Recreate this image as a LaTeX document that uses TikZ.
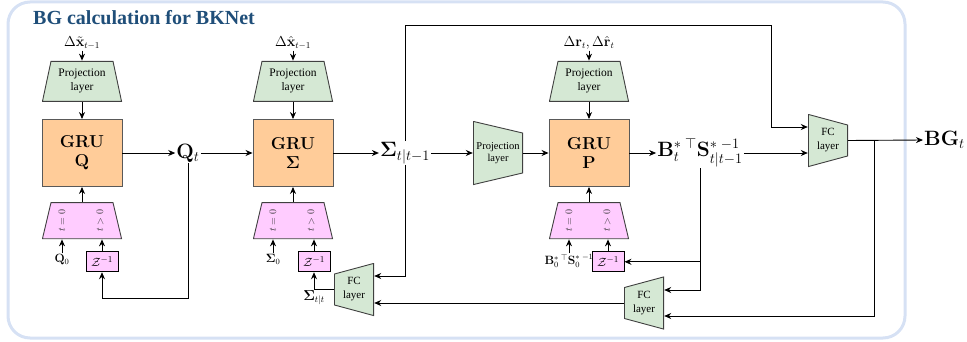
\documentclass[tikz,border=0pt]{standalone}
\usepackage{amsmath,amssymb}
\usepackage[no-math]{fontspec}
\setmainfont{Liberation Serif}
\usetikzlibrary{arrows.meta,positioning,calc}

\definecolor{gruorange}{HTML}{FFCC99}
\definecolor{projgreen}{HTML}{D5E8D4}
\definecolor{initpink}{HTML}{FFCCFF}
\definecolor{frameblue}{HTML}{D6E1F4}
\definecolor{titleblue}{HTML}{1F4E79}

\tikzset{
  trapS/.style 2 args={path picture={\filldraw[draw=black!75, line width=0.9pt, fill=#1]
    ($(path picture bounding box.north west)+(#2,-0.45pt)$) -- ($(path picture bounding box.north east)+(-#2,-0.45pt)$) --
    ($(path picture bounding box.south east)+(-0.45pt,0.45pt)$) -- ($(path picture bounding box.south west)+(0.45pt,0.45pt)$) -- cycle;}},
  trapW/.style 2 args={path picture={\filldraw[draw=black!75, line width=0.9pt, fill=#1]
    ($(path picture bounding box.north west)+(0.45pt,-0.45pt)$) -- ($(path picture bounding box.north east)+(-0.45pt,-#2)$) --
    ($(path picture bounding box.south east)+(-0.45pt,#2)$) -- ($(path picture bounding box.south west)+(0.45pt,0.45pt)$) -- cycle;}},
  trapE/.style 2 args={path picture={\filldraw[draw=black!75, line width=0.9pt, fill=#1]
    ($(path picture bounding box.north west)+(0.45pt,-#2)$) -- ($(path picture bounding box.north east)+(-0.45pt,-0.45pt)$) --
    ($(path picture bounding box.south east)+(-0.45pt,0.45pt)$) -- ($(path picture bounding box.south west)+(0.45pt,#2)$) -- cycle;}},
  grubox/.style={draw=black!65, fill=gruorange, line width=0.9pt, minimum width=80pt, minimum height=67pt, inner sep=0pt, align=center, font=\fontsize{17.28}{18.5}\selectfont},
  projtrap/.style={trapS={projgreen}{9pt}, minimum width=80pt, minimum height=41pt, inner sep=0pt, align=center, font=\fontsize{11.5}{14}\selectfont},
  inittrap/.style={trapS={initpink}{9pt}, minimum width=80pt, minimum height=37pt, inner sep=0pt},
  midtrap/.style={trapW={projgreen}{12pt}, minimum width=50pt, minimum height=64pt, inner sep=0pt, align=center, font=\fontsize{10.5}{12.5}\selectfont},
  fcleft/.style={trapW={projgreen}{11pt}, minimum width=40pt, minimum height=53pt, inner sep=0pt, align=center, font=\fontsize{11}{14}\selectfont},
  fcright/.style={trapE={projgreen}{11pt}, minimum width=40pt, minimum height=53pt, inner sep=0pt, align=center, font=\fontsize{11}{14}\selectfont},
  zbox/.style={draw=black, fill=initpink, line width=0.9pt, minimum width=32pt, minimum height=20pt, inner sep=0pt, font=\fontsize{13}{15}\selectfont},
  pinktext/.style={rotate=90, inner sep=0pt, text=black!80, font=\fontsize{10}{12}\selectfont},
  inlabel/.style={inner sep=1pt, font=\fontsize{13.5}{16}\selectfont},
  smalllabel/.style={inner sep=1pt, font=\fontsize{12}{14}\selectfont},
  biglabel/.style={inner sep=1pt, font=\fontsize{21}{24}\selectfont},
  flow/.style={-{Stealth[length=7pt,width=6pt]}, line width=0.9pt},
}

\begin{document}
\begin{tikzpicture}[x=1pt,y=1pt]
\useasboundingbox (0,0) rectangle (967,341);
\draw[frameblue, line width=3pt, rounded corners=22pt] (8,3) rectangle (905,339);
\node[anchor=west, inner sep=0pt, text=titleblue, font=\fontsize{20}{24}\selectfont\bfseries] (title) at (33,323) {BG calculation for BKNet};

\node[grubox] (gruQ) at (82,188) {$\mathbf{GRU}$\\$\mathbf{Q}$};
\node[projtrap, above=17pt of gruQ] (projQ) {Projection\\layer};
\node[inlabel, above=10pt of projQ] (inQ) {$\Delta\tilde{\mathbf{x}}_{t-1}$};
\node[inittrap, below=15pt of gruQ] (initQ) {};
\node[pinktext] (tQa) at ([xshift=-20pt]initQ.center) {$t=0$};
\node[pinktext] (tQb) at ([xshift=18pt]initQ.center) {$t>0$};
\node[zbox, below=12pt of initQ.south, xshift=20pt] (zQ) {$\mathcal{Z}^{-1}$};
\node[smalllabel, below=14pt of initQ.south, xshift=-20pt] (Q0) {$\mathbf{Q}_0$};

\node[grubox] (gruS) at (293,188) {$\mathbf{GRU}$\\$\mathbf{\Sigma}$};
\node[projtrap, above=17pt of gruS] (projS) {Projection\\layer};
\node[inlabel, above=10pt of projS] (inS) {$\Delta\hat{\mathbf{x}}_{t-1}$};
\node[inittrap, below=15pt of gruS] (initS) {};
\node[pinktext] (tSa) at ([xshift=-20pt]initS.center) {$t=0$};
\node[pinktext] (tSb) at ([xshift=18pt]initS.center) {$t>0$};
\node[zbox, below=12pt of initS.south, xshift=21pt] (zS) {$\mathcal{Z}^{-1}$};
\node[smalllabel, below=14pt of initS.south, xshift=-20pt] (S0) {$\mathbf{\Sigma}_0$};

\node[grubox] (gruP) at (589,188) {$\mathbf{GRU}$\\$\mathbf{P}$};
\node[projtrap, above=17pt of gruP] (projP) {Projection\\layer};
\node[inlabel, above=10pt of projP] (inP) {$\Delta\mathbf{r}_t,\Delta\hat{\mathbf{r}}_t$};
\node[inittrap, below=15pt of gruP] (initP) {};
\node[pinktext] (tPa) at ([xshift=-20pt]initP.center) {$t=0$};
\node[pinktext] (tPb) at ([xshift=18pt]initP.center) {$t>0$};
\node[zbox, below=12pt of initP.south, xshift=19pt] (zP) {$\mathcal{Z}^{-1}$};
\node[smalllabel, below=14pt of initP.south, xshift=-20pt] (B0) {$\mathbf{B}_0^{*\;\top}\mathbf{S}_0^{*\;-1}$};

\node[biglabel] (Qt) at (188,188) {$\mathbf{Q}_t$};
\node[biglabel] (Stt1) at (405,188) {$\mathbf{\Sigma}_{t|t-1}$};
\node[midtrap] (projM) at (498,188) {Projection\\layer};
\node[biglabel] (Bt) at (700,188) {$\mathbf{B}_t^{*\;\top}\mathbf{S}_{t|t-1}^{*\;-1}$};
\node[fcleft] (fc2) at (828,200.5) {FC\\layer};
\node[fcright] (fc1) at (354,51.5) {FC\\layer};
\node[fcright] (fc3) at (644,38) {FC\\layer};
\node[biglabel, anchor=west] (BG) at (923,201) {$\mathbf{BG}_t$};

\coordinate (qloop) at (0,43);
\coordinate (sigturn) at (771,316);
\coordinate (bgsplit) at (874,201);
\coordinate (sigtt) at (zS.south |- fc1.west);
\node[inlabel, below=0pt of sigtt] (Stt) {$\mathbf{\Sigma}_{t|t}$};

\draw[flow] (inQ) -- (projQ);
\draw[flow] (projQ) -- (gruQ);
\draw[flow] (initQ) -- (gruQ);
\draw[flow] (Q0) -- (Q0 |- initQ.south);
\draw[flow] (zQ) -- (zQ |- initQ.south);
\draw[flow] (inS) -- (projS);
\draw[flow] (projS) -- (gruS);
\draw[flow] (initS) -- (gruS);
\draw[flow] (S0) -- (S0 |- initS.south);
\draw[flow] (zS) -- (zS |- initS.south);
\draw[flow] (inP) -- (projP);
\draw[flow] (projP) -- (gruP);
\draw[flow] (initP) -- (gruP);
\draw[flow] (B0) -- (B0 |- initP.south);
\draw[flow] (zP) -- (zP |- initP.south);

\draw[flow] (gruQ) -- (Qt);
\draw[flow] (Qt) -- (gruS);
\draw[flow] (Qt.south) -- (Qt.south |- qloop) -| (zQ.south);
\draw[flow] (gruS) -- (Stt1);
\draw[flow] (Stt1) -- (projM);
\draw[flow] (projM) -- (gruP);
\draw[flow] (gruP) -- (Bt);
\draw[flow] (Bt.east) -- (Bt.east -| fc2.west);
\draw[flow] (Stt1.north) |- (sigturn) |- ([yshift=13.5pt]fc2.west);
\draw[flow] (Stt1.south) |- ([yshift=13.5pt]fc1.east);
\draw[flow] (Bt.south) |- ([yshift=13pt]fc3.east);
\draw[flow] (Bt.south |- zP.east) -- (zP.east);
\draw[flow] (fc2.east) -- (BG.west);
\draw[flow] (bgsplit) |- ([yshift=-13pt]fc3.east);
\draw[flow] (fc3.west) -- (fc3.west -| fc1.east);
\draw[flow] (fc1.west) -- (sigtt) -- (zS.south);
\end{tikzpicture}
\end{document}
